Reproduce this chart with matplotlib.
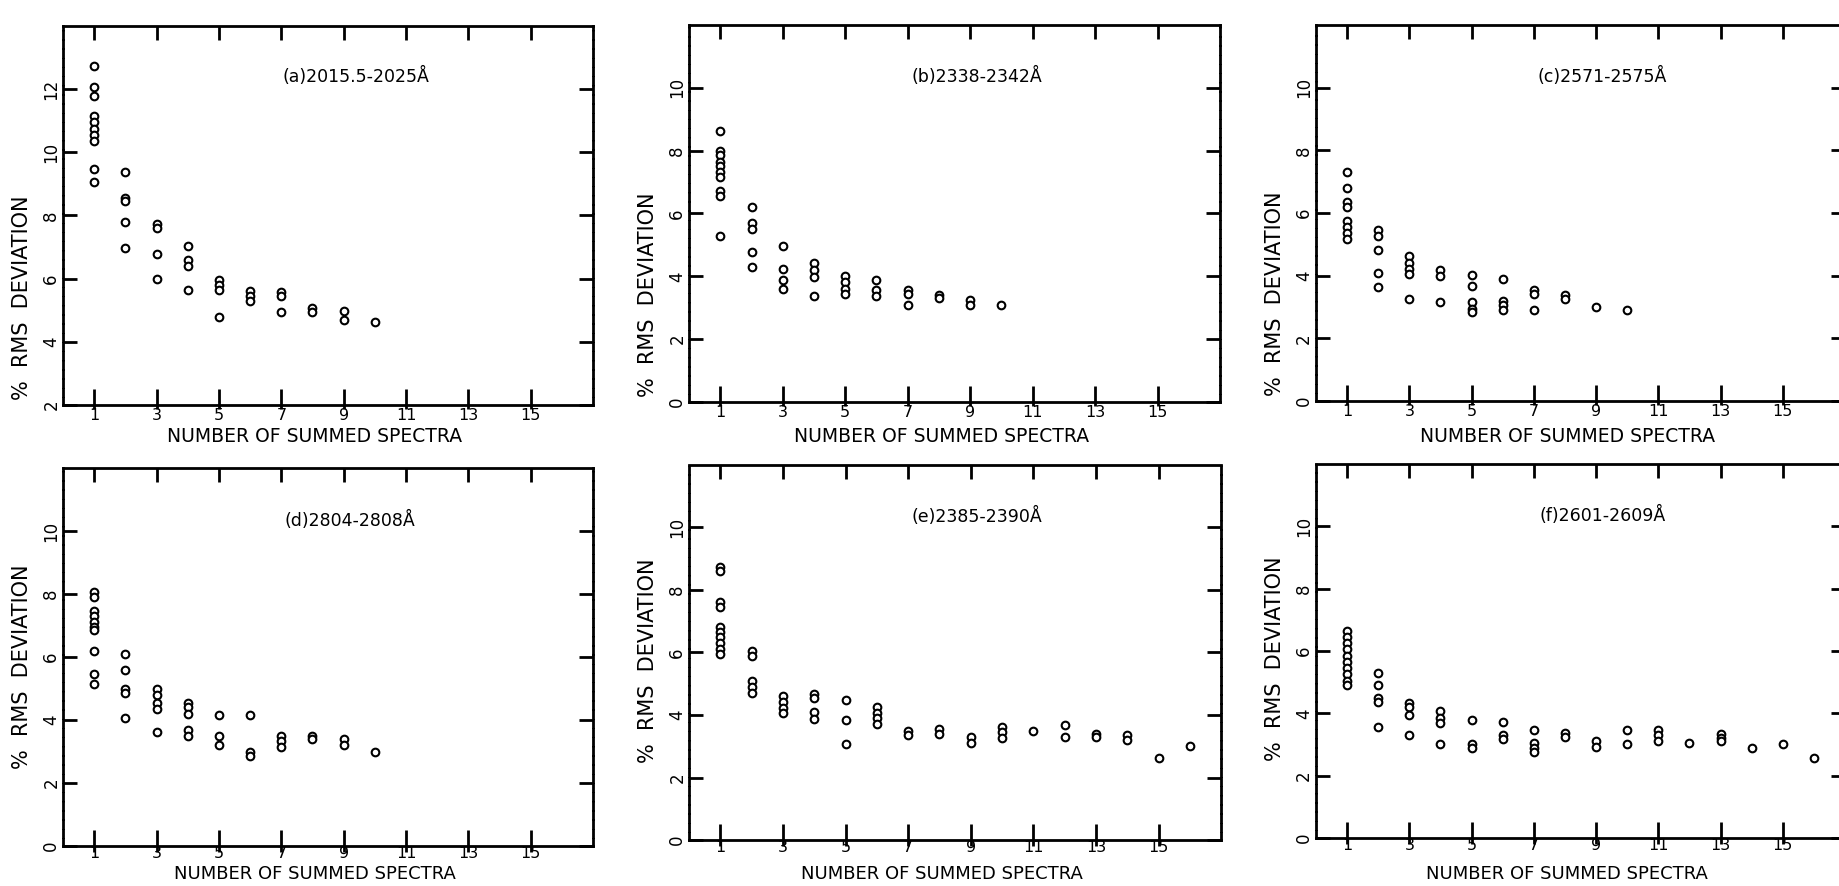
import matplotlib
matplotlib.use("Agg")
import matplotlib.pyplot as plt

plt.rcParams['font.family'] = ['DejaVu Sans']

# panel (a) 2015.5-2025 A
a_x = [1]*10 + [2]*5 + [3]*4 + [4]*4 + [5]*4 + [6]*3 + [7]*3 + [8]*2 + [9]*2 + [10]
a_y = [12.72, 12.07, 11.79, 11.16, 10.95, 10.75, 10.55, 10.37, 9.47, 9.05,
       9.37, 8.56, 8.45, 7.79, 6.98,
       7.72, 7.59, 6.79, 6.0,
       7.02, 6.6, 6.4, 5.63,
       5.97, 5.8, 5.65, 4.79,
       5.62, 5.45, 5.3,
       5.58, 5.45, 4.95,
       5.08, 4.95,
       4.97, 4.68,
       4.63]

# panel (b) 2338-2342 A
b_x = [1]*10 + [2]*5 + [3]*4 + [4]*4 + [5]*4 + [6]*3 + [7]*3 + [8]*2 + [9]*2 + [10]
b_y = [8.62, 8.0, 7.85, 7.65, 7.5, 7.32, 7.15, 6.72, 6.55, 5.27,
       6.22, 5.7, 5.5, 4.77, 4.31,
       4.98, 4.22, 3.88, 3.6,
       4.41, 4.2, 3.99, 3.37,
       4.01, 3.83, 3.6, 3.45,
       3.88, 3.56, 3.38,
       3.57, 3.43, 3.09,
       3.42, 3.32,
       3.25, 3.1,
       3.09]

# panel (c) 2571-2575 A
c_x = [1]*8 + [2]*5 + [3]*5 + [4]*3 + [5]*5 + [6]*4 + [7]*3 + [8]*2 + [9] + [10]
c_y = [7.32, 6.79, 6.36, 6.2, 5.75, 5.55, 5.35, 5.18,
       5.46, 5.25, 4.82, 4.08, 3.64,
       4.63, 4.4, 4.2, 4.06, 3.26,
       4.19, 4.0, 3.15,
       4.03, 3.66, 3.15, 2.95, 2.85,
       3.89, 3.2, 3.05, 2.92,
       3.55, 3.4, 2.92,
       3.39, 3.25,
       3.0,
       2.92]

# panel (d) 2804-2808 A
d_x = [1]*10 + [2]*5 + [3]*5 + [4]*5 + [5]*3 + [6]*3 + [7]*3 + [8]*2 + [9]*2 + [10]
d_y = [8.05, 7.9, 7.45, 7.3, 7.1, 6.95, 6.85, 6.2, 5.45, 5.15,
       6.1, 5.6, 5.0, 4.85, 4.06,
       5.0, 4.8, 4.55, 4.35, 3.63,
       4.55, 4.4, 4.2, 3.7, 3.5,
       4.15, 3.5, 3.2,
       4.15, 3.0, 2.85,
       3.5, 3.35, 3.15,
       3.5, 3.4,
       3.4, 3.2,
       3.0]

# panel (e) 2385-2390 A
e_x = ([1]*10 + [2]*5 + [3]*4 + [4]*4 + [5]*3 + [6]*4 + [7]*2 + [8]*2 + [9]*2
       + [10]*3 + [11] + [12]*2 + [13]*2 + [14]*2 + [15] + [16])
e_y = [8.75, 8.6, 7.6, 7.45, 6.8, 6.65, 6.5, 6.3, 6.1, 5.95,
       6.05, 5.9, 5.1, 4.9, 4.7,
       4.62, 4.43, 4.22, 4.05,
       4.66, 4.55, 4.1, 3.86,
       4.48, 3.84, 3.06,
       4.25, 4.05, 3.9, 3.7,
       3.5, 3.35,
       3.55, 3.38,
       3.3, 3.12,
       3.62, 3.45, 3.25,
       3.49,
       3.68, 3.3,
       3.4, 3.3,
       3.35, 3.2,
       2.61,
       3.02]

# panel (f) 2601-2609 A
f_x = ([1]*10 + [2]*5 + [3]*4 + [4]*4 + [5]*3 + [6]*3 + [7]*4 + [8]*2 + [9]*2
       + [10]*2 + [11]*3 + [12] + [13]*3 + [14] + [15] + [16])
f_y = [6.65, 6.45, 6.25, 6.05, 5.85, 5.65, 5.45, 5.25, 5.05, 4.9,
       5.3, 4.9, 4.5, 4.35, 3.55,
       4.33, 4.2, 3.95, 3.32,
       4.06, 3.85, 3.7, 3.0,
       3.8, 3.0, 2.9,
       3.71, 3.32, 3.18,
       3.48, 3.05, 2.9, 2.75,
       3.37, 3.25,
       3.1, 2.92,
       3.48, 3.0,
       3.45, 3.3, 3.1,
       3.05,
       3.35, 3.2, 3.1,
       2.9,
       3.0,
       2.57]

titles = ["(a)2015.5-2025Å", "(b)2338-2342Å", "(c)2571-2575Å",
          "(d)2804-2808Å", "(e)2385-2390Å", "(f)2601-2609Å"]
xs = [a_x, b_x, c_x, d_x, e_x, f_x]
ys = [a_y, b_y, c_y, d_y, e_y, f_y]
xticks = [1, 3, 5, 7, 9, 11, 13, 15]

# axes rectangles [left, bottom, width, height] in figure fraction
rects = [
    [0.0343, 0.5429, 0.2882, 0.4278],
    [0.3747, 0.5463, 0.2887, 0.4255],
    [0.7156, 0.5474, 0.2877, 0.4244],
    [0.0343, 0.0451, 0.2882, 0.4266],
    [0.3747, 0.0519, 0.2893, 0.4233],
    [0.7156, 0.0542, 0.2877, 0.4221],
]
# top edge of the x label, in figure fraction, for each row
xlabel_top = [0.518, 0.0237]

fig = plt.figure(figsize=(18.39, 8.86), dpi=100)

for i in range(6):
    r = rects[i]
    ax = fig.add_axes(r)
    ax.plot(xs[i], ys[i], "o", mfc="white", mec="black", ms=5.5, mew=1.5, ls="none")
    ax.set_xlim(0, 17)
    if i == 0:
        ax.set_ylim(2, 14)
        ax.set_yticks([2, 4, 6, 8, 10, 12])
        ty, tx = 12.4, 9.4
    else:
        ax.set_ylim(0, 12)
        ax.set_yticks([0, 2, 4, 6, 8, 10])
        ty, tx = 10.35, 9.2
    top_row = i < 3

    # labelled ticks: short part below the axis
    ax.set_xticks(xticks)
    ax.tick_params(axis="x", direction="out", length=3 if top_row else 4, width=2,
                   labelsize=11.5, pad=-1 if top_row else -4)
    # upper part of the crossing ticks
    inner = ax.secondary_xaxis("bottom")
    inner.set_xticks(xticks)
    inner.tick_params(direction="in", length=11.5, width=2)
    inner.set_xticklabels([])

    ax.tick_params(axis="y", direction="in", length=10, width=2, labelsize=12, pad=2)
    for lab in ax.get_yticklabels():
        lab.set_rotation(90)
        lab.set_va("center")
    for name, sp in ax.spines.items():
        sp.set_linewidth(2)
        if name in ("left", "right"):
            sp.set_linestyle((0, (2.5, 0.8)))

    top = ax.secondary_xaxis("top")
    top.set_xticks(xticks)
    top.tick_params(direction="in", length=10, width=2)
    top.set_xticklabels([])
    right = ax.secondary_yaxis("right")
    right.set_yticks(ax.get_yticks())
    right.tick_params(direction="in", length=10, width=2)
    right.set_yticklabels([])

    ax.text(tx, ty, titles[i], ha="center", va="center", fontsize=12.5)
    ax.set_xlabel("NUMBER OF SUMMED SPECTRA", fontsize=13 if not top_row else 13.5)
    yl = xlabel_top[0 if top_row else 1]
    ax.xaxis.set_label_coords(0.475, (yl - r[1]) / r[3])
    ax.text(-0.078, 0.013 if top_row else 0.205, "%  RMS  DEVIATION", transform=ax.transAxes,
            rotation=90, ha="center", va="bottom", fontsize=15)

fig.savefig("out.png", dpi=100)
